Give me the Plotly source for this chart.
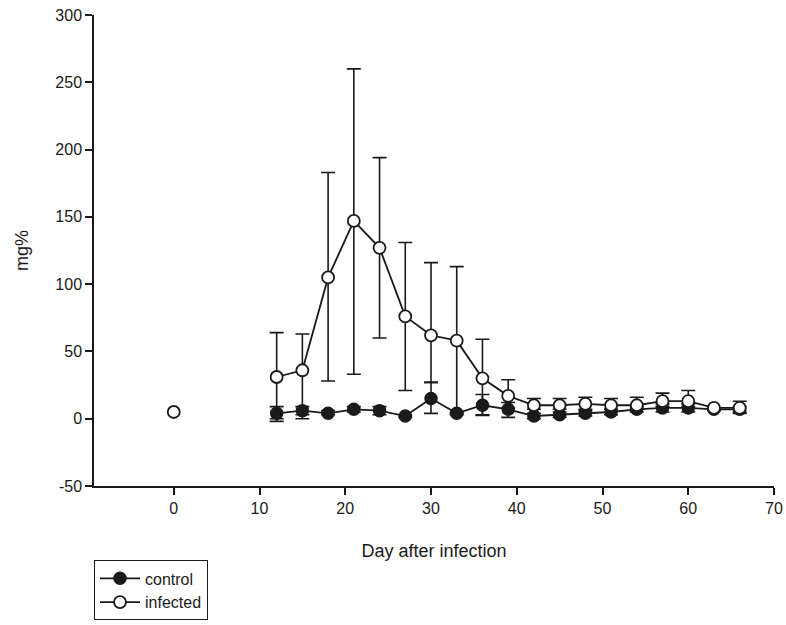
import plotly.graph_objects as go

# ---- data ----
days = [12, 15, 18, 21, 24, 27, 30, 33, 36, 39, 42, 45, 48, 51, 54, 57, 60, 63, 66]

control_mean = [4, 6, 4, 7, 6, 2, 15, 4, 10, 7, 2, 3, 4, 5, 7, 8, 8, 7, 7]
control_upper = [9, 9, 6, 9, 9, 3, 27, 5, 18, 12, 4, 5, 6, 7, 9, 11, 11, 8, 9]
control_lower = [-2, 3, 3, 5, 3, 1, 4, 3, 2.5, 1, 0, 1, 2, 3, 5, 5, 5, 6, 5]

infected_mean = [31, 36, 105, 147, 127, 76, 62, 58, 30, 17, 10, 10, 11, 10, 10, 13, 13, 8, 8]
infected_upper = [64, 63, 183, 260, 194, 131, 116, 113, 59, 29, 15, 15, 16, 15, 16, 19, 21, 8, 13]
infected_lower = [0, 0, 28, 33, 60, 21, 27, 4, 3, 8, 7, 7, 7, 7, 7, 9, 9, 8, 4]

baseline_day = [0]
baseline_value = [5]

x_ticks = [0, 10, 20, 30, 40, 50, 60, 70]
y_ticks = [-50, 0, 50, 100, 150, 200, 250, 300]
y_tick_labels = ["-50", "0", "50", "100", "150", "200", "250", "300"]

INK = "#1a1a1a"


def err(mean, up, lo):
    return dict(
        type="data",
        symmetric=False,
        array=[u - m for u, m in zip(up, mean)],
        arrayminus=[m - l for m, l in zip(mean, lo)],
        color=INK,
        thickness=1.6,
        width=7,
    )


fig = go.Figure()

fig.add_trace(go.Scatter(
    x=days, y=control_mean, name="control", mode="lines+markers",
    line=dict(color=INK, width=1.8),
    marker=dict(symbol="circle", size=12, color=INK, line=dict(color=INK, width=1.5)),
    error_y=err(control_mean, control_upper, control_lower),
))

fig.add_trace(go.Scatter(
    x=days, y=infected_mean, name="infected", mode="lines+markers",
    line=dict(color=INK, width=1.8),
    marker=dict(symbol="circle", size=12, color="white", line=dict(color=INK, width=1.8)),
    error_y=err(infected_mean, infected_upper, infected_lower),
))

fig.add_trace(go.Scatter(
    x=baseline_day, y=baseline_value, name="baseline", mode="markers",
    showlegend=False,
    marker=dict(symbol="circle", size=12, color="white", line=dict(color=INK, width=1.8)),
))

fig.update_layout(
    width=786, height=625,
    margin=dict(l=94, r=12, t=15, b=139, autoexpand=False),
    paper_bgcolor="white", plot_bgcolor="white",
    font=dict(family="Liberation Sans, Arial, sans-serif", size=16, color=INK),
    showlegend=True,
    legend=dict(
        x=0.0, y=-0.158, xanchor="left", yanchor="top",
        bordercolor=INK, borderwidth=1, bgcolor="white",
        font=dict(size=16), tracegroupgap=0, itemwidth=40,
    ),
    xaxis=dict(
        range=[-9.3, 70], tickvals=x_ticks, showgrid=False, zeroline=False,
        showline=True, linecolor=INK, linewidth=1.5,
        ticks="outside", ticklen=7, tickwidth=1.5, tickcolor=INK,
        tickfont=dict(size=16),
        title=dict(text="Day after infection", font=dict(size=18), standoff=28),
    ),
    yaxis=dict(
        range=[-50, 300], tickvals=y_ticks, ticktext=y_tick_labels,
        showgrid=False, zeroline=False,
        showline=True, linecolor=INK, linewidth=1.5,
        ticks="outside", ticklen=7, tickwidth=1.5, tickcolor=INK,
        tickfont=dict(size=16),
        title=dict(text="mg%", font=dict(size=18), standoff=22),
    ),
)

fig.write_html("out.html")
